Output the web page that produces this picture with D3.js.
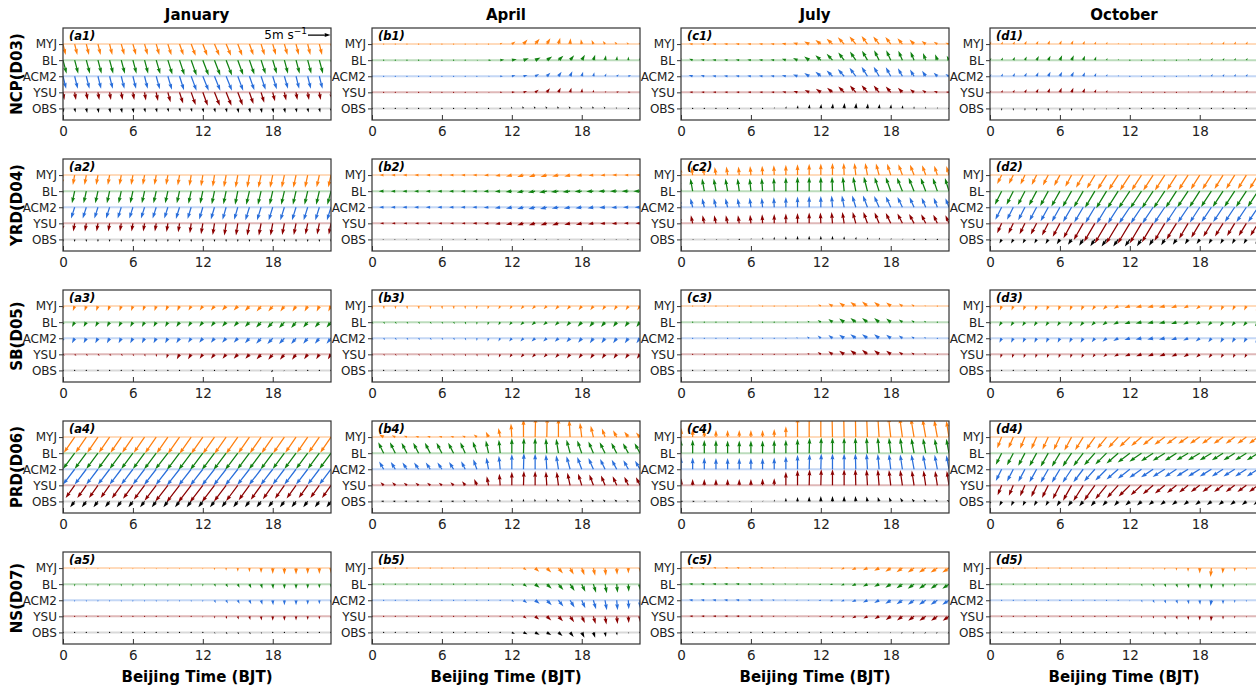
<!DOCTYPE html>
<html><head><meta charset="utf-8">
<script src="https://cdn.jsdelivr.net/npm/d3@7"></script>
<style>body{margin:0;background:#fff}text{font-family:"DejaVu Sans",sans-serif}</style>
</head><body><svg id="c" width="1256" height="689"></svg>
<script>
const months = ["January","April","July","October"];
const regions = ["NCP(D03)","YRD(D04)","SB(D05)","PRD(D06)","NS(D07)"];
const schemes = ["MYJ","BL","ACM2","YSU","OBS"];
const schemeColors = ["#ff7f0e","#108010","#2a6fdb","#8b0000","#000000"];
const hours = [0,1,2,3,4,5,6,7,8,9,10,11,12,13,14,15,16,17,18,19,20,21,22,23];
const xTicks = [0,6,12,18];
const keySpeed = 5;

// ---- wind components (m/s), rows: MYJ, BL, ACM2, YSU, OBS ; columns: hour 0..23 ----
const a1_u = [
[0.6,0.6,0.6,0.6,0.6,0.7,0.7,0.7,0.7,0.8,0.9,1.0,1.0,1.1,1.1,1.0,0.9,0.8,0.7,0.7,0.6,0.6,0.6,0.6],
[0.8,0.8,0.8,0.8,0.8,0.8,0.8,0.8,0.9,1.0,1.1,1.2,1.3,1.3,1.3,1.2,1.1,1.0,0.9,0.8,0.8,0.8,0.8,0.8],
[0.7,0.7,0.7,0.7,0.7,0.7,0.7,0.7,0.8,0.9,1.0,1.2,1.3,1.3,1.3,1.2,1.1,1.0,0.9,0.8,0.7,0.7,0.7,0.7],
[0.3,0.3,0.3,0.3,0.3,0.3,0.3,0.3,0.4,0.6,0.8,1.0,1.1,1.2,1.2,1.1,0.9,0.7,0.5,0.4,0.3,0.3,0.3,0.3],
[0.2,0.2,0.2,0.2,0.2,0.2,0.2,0.2,0.2,0.2,0.2,0.2,0.2,0.2,0.2,0.2,0.2,0.2,0.2,0.2,0.2,0.2,0.2,0.2]];
const a1_v = [
[-2.4,-2.4,-2.4,-2.4,-2.4,-2.4,-2.4,-2.4,-2.4,-2.5,-2.5,-2.6,-2.6,-2.6,-2.6,-2.6,-2.5,-2.5,-2.4,-2.4,-2.4,-2.4,-2.4,-2.4],
[-3.0,-3.0,-3.0,-3.0,-3.0,-3.0,-3.0,-3.0,-3.1,-3.2,-3.3,-3.4,-3.4,-3.4,-3.4,-3.3,-3.2,-3.1,-3.0,-3.0,-3.0,-3.0,-3.0,-3.0],
[-2.8,-2.8,-2.8,-2.8,-2.8,-2.8,-2.8,-2.8,-2.9,-3.0,-3.1,-3.2,-3.2,-3.2,-3.2,-3.2,-3.1,-3.0,-2.9,-2.8,-2.8,-2.8,-2.8,-2.8],
[-1.7,-1.7,-1.7,-1.7,-1.7,-1.7,-1.7,-1.8,-1.9,-2.2,-2.5,-2.8,-3.0,-3.0,-3.0,-2.9,-2.6,-2.3,-2.0,-1.8,-1.7,-1.7,-1.7,-1.7],
[-0.9,-0.9,-1.0,-1.0,-1.0,-1.0,-1.0,-0.9,-0.9,-0.8,-0.8,-0.8,-0.9,-0.9,-0.9,-1.0,-1.0,-1.0,-1.0,-1.0,-0.9,-0.9,-0.9,-0.9]];

const b1_u = [
[0,0,0,0,0,0,0,0,0,0,0.2,0.5,0.8,0.9,1.0,0.8,0.4,0.1,-0.2,-0.4,-0.5,-0.5,-0.4,-0.3],
[0,0,0,0,0,0,0,0,0.1,0.3,0.6,0.9,1.1,1.2,1.2,1.2,1.1,0.9,0.7,0.4,0.2,0.1,0,0],
[0,0,0,0,0,0,0,0,0,0.1,0.3,0.6,0.8,0.9,0.9,0.8,0.7,0.5,0.3,0.2,0.3,0.5,0.6,0.5],
[0,0,0,0,0,0,0,0,0,0.1,0.3,0.5,0.7,0.8,0.8,0.7,0.5,0.3,0.1,0,0.3,0.5,0.5,0.4],
[0,0,0,0,0,0,0,0,0,0,0,0,-0.2,-0.3,-0.3,-0.3,-0.3,-0.3,-0.3,-0.3,-0.3,-0.2,-0.1,0]];
const b1_v = [
[0,0,0,0,0,0,0,0,0,0,0.1,0.3,0.6,1.0,1.2,1.3,1.4,1.3,1.1,0.9,0.7,0.5,0.4,0.3],
[0,0,0,0,0,0,0,0,0,0,0,0.1,0.2,0.4,0.6,0.8,1.0,1.1,1.2,1.2,1.1,0.9,0.8,0.6],
[0,0,0,0,0,0,0,0,0,0,0,0,0.2,0.3,0.5,0.8,1.0,1.1,1.0,0.9,0.6,0.4,0.2,0.1],
[0,0,0,0,0,0,0,0,0,0,0,0,0.1,0.3,0.6,0.9,1.0,1.0,0.9,0.6,0.3,0.2,0.1,0],
[0,0,0,0,0,0,0,0,0,0,0,0,0.4,0.5,0.5,0.5,0.5,0.5,0.5,0.5,0.4,0.3,0.2,0.1]];

const c1_u = [
[-0.8,-0.8,-0.8,-0.8,-0.8,-0.8,-0.8,-0.8,-0.8,-0.9,-1.0,-1.1,-1.2,-1.3,-1.4,-1.4,-1.3,-1.3,-1.2,-1.1,-1.0,-0.9,-0.8,-0.8],
[-1.0,-0.8,-0.8,-0.8,-0.8,-0.8,-0.8,-0.8,-0.8,-0.9,-1.0,-1.1,-1.2,-1.3,-1.3,-1.3,-1.2,-1.1,-1.0,-0.9,-0.8,-0.6,-0.5,-0.5],
[-1.0,-0.9,-0.8,-0.8,-0.8,-0.8,-0.8,-0.8,-0.8,-0.9,-1.0,-1.1,-1.2,-1.3,-1.4,-1.4,-1.3,-1.2,-1.1,-1.0,-0.9,-0.8,-0.8,-0.8],
[-0.7,-0.7,-0.7,-0.7,-0.7,-0.7,-0.7,-0.7,-0.7,-0.8,-0.9,-1.0,-1.1,-1.2,-1.3,-1.3,-1.3,-1.2,-1.1,-1.0,-0.9,-0.8,-0.8,-0.7],
[0,0,0,0,0,0,0,0,0,0.1,0.1,0.1,0.1,0.1,0.1,0.1,0.1,0.1,0.1,0.1,0,0,0,0]];
const c1_v = [
[0.1,0.1,0.1,0.1,0.1,0.1,0.1,0.1,0.1,0.2,0.3,0.6,0.9,1.2,1.5,1.7,1.8,1.7,1.6,1.3,1.0,0.7,0.5,0.3],
[0.5,0.3,0.1,0.1,0.1,0.1,0.1,0.1,0.1,0.3,0.5,0.8,1.1,1.4,1.7,1.9,2.1,2.2,2.2,2.1,1.9,1.6,1.3,1.0],
[0.4,0.3,0.2,0.1,0.1,0.1,0.1,0.1,0.1,0.2,0.4,0.7,1.0,1.3,1.6,1.9,2.1,2.1,2.0,1.8,1.5,1.2,0.8,0.5],
[0.2,0.1,0.1,0.1,0.1,0.1,0.1,0.1,0.1,0.2,0.3,0.5,0.8,1.0,1.3,1.5,1.6,1.5,1.3,1.0,0.7,0.5,0.3,0.1],
[0,0,0,0,0,0,0,0.2,0.3,0.5,0.7,0.9,1.0,1.1,1.2,1.2,1.1,1.0,0.9,0.7,0.5,0.4,0.3,0.2]];

const d1_u = [
[0.3,0.3,0.4,0.4,0.4,0.4,0.4,0.4,0.4,0.3,0.2,0.1,0.1,0,0,0,0,0.1,0.2,0.3,0.3,0.3,0.3,0.3],
[0.3,0.3,0.4,0.4,0.5,0.5,0.5,0.5,0.4,0.3,0.2,0.1,0,0,0,0,0.1,0.2,0.3,0.3,0.3,0.3,0.3,0.3],
[0.3,0.3,0.4,0.4,0.4,0.5,0.5,0.5,0.4,0.3,0.2,0.1,0,0,0,0,0.1,0.2,0.3,0.3,0.3,0.3,0.3,0.3],
[0.3,0.3,0.3,0.4,0.4,0.4,0.4,0.4,0.4,0.3,0.2,0.1,0,0,0,0,0.1,0.2,0.2,0.3,0.3,0.3,0.3,0.3],
[0,0,0,0,0,0,0,0,0,0,0,0,0,0,0,0,0,0,0,0,0,0,0,0]];
const d1_v = [
[0.6,0.6,0.6,0.7,0.7,0.8,0.8,0.8,0.7,0.6,0.5,0.3,0.1,0,0,0,0.1,0.2,0.4,0.5,0.6,0.6,0.6,0.6],
[0.5,0.6,0.7,0.8,0.9,1.0,1.1,1.1,1.0,0.8,0.5,0.3,0.1,0,0,0,0.1,0.3,0.4,0.5,0.5,0.5,0.5,0.5],
[0.5,0.6,0.7,0.8,0.9,1.0,1.0,1.0,0.9,0.7,0.5,0.3,0.1,0,0,0,0.1,0.3,0.4,0.5,0.5,0.5,0.5,0.5],
[0.4,0.5,0.6,0.7,0.8,0.9,1.0,1.0,0.9,0.7,0.5,0.3,0.1,0,0,0,0.1,0.2,0.3,0.4,0.4,0.4,0.4,0.4],
[-0.5,-0.5,-0.5,-0.5,-0.6,-0.6,-0.6,-0.6,-0.5,-0.4,-0.3,-0.1,0,0,0,0,0,0,0,0,0,0,0,0]];

const a2_u = [
[-0.4,-0.4,-0.4,-0.4,-0.4,-0.4,-0.4,-0.4,-0.4,-0.4,-0.4,-0.4,-0.4,-0.4,-0.5,-0.5,-0.5,-0.6,-0.6,-0.6,-0.6,-0.6,-0.6,-0.6],
[-0.7,-0.6,-0.6,-0.6,-0.6,-0.6,-0.6,-0.6,-0.6,-0.6,-0.6,-0.6,-0.6,-0.6,-0.6,-0.6,-0.7,-0.7,-0.7,-0.7,-0.7,-0.7,-0.7,-0.8],
[-0.8,-0.8,-0.8,-0.8,-0.8,-0.8,-0.8,-0.8,-0.8,-0.8,-0.8,-0.8,-0.8,-0.8,-0.8,-0.8,-0.9,-0.9,-0.9,-0.9,-0.9,-0.9,-0.9,-0.9],
[-0.3,-0.3,-0.3,-0.3,-0.3,-0.3,-0.3,-0.3,-0.3,-0.3,-0.3,-0.3,-0.4,-0.4,-0.4,-0.4,-0.5,-0.5,-0.5,-0.5,-0.5,-0.5,-0.5,-0.5],
[0,0,0,0,0,0,0,0,0,0,0,0,0,0,0,0,0,0,0,0,0,0,0,0]];
const a2_v = [
[-2.2,-2.2,-2.2,-2.2,-2.2,-2.2,-2.2,-2.2,-2.2,-2.2,-2.3,-2.4,-2.5,-2.6,-2.7,-2.8,-2.8,-2.8,-2.8,-2.8,-2.8,-2.8,-2.7,-2.7],
[-2.8,-2.7,-2.7,-2.7,-2.7,-2.7,-2.7,-2.7,-2.7,-2.7,-2.7,-2.8,-2.8,-2.9,-2.9,-3.0,-3.0,-3.0,-3.0,-3.0,-3.0,-3.0,-3.0,-3.0],
[-2.5,-2.5,-2.5,-2.5,-2.5,-2.5,-2.5,-2.5,-2.5,-2.5,-2.6,-2.6,-2.7,-2.7,-2.8,-2.8,-2.9,-2.9,-2.9,-2.9,-2.9,-2.9,-2.9,-2.9],
[-1.8,-1.8,-1.8,-1.8,-1.8,-1.8,-1.8,-1.8,-1.8,-1.9,-2.0,-2.2,-2.4,-2.6,-2.7,-2.7,-2.7,-2.7,-2.7,-2.6,-2.6,-2.5,-2.5,-2.5],
[-0.6,-0.6,-0.6,-0.6,-0.6,-0.6,-0.6,-0.6,-0.6,-0.6,-0.6,-0.6,-0.6,-0.6,-0.6,-0.6,-0.6,-0.6,-0.6,-0.6,-0.6,-0.6,-0.6,-0.6]];

const b2_u = [
[-0.9,-0.9,-0.9,-0.9,-0.9,-0.9,-0.9,-0.9,-0.9,-0.9,-1.0,-1.1,-1.3,-1.4,-1.4,-1.4,-1.4,-1.3,-1.2,-1.1,-1.0,-1.0,-0.9,-0.9],
[-1.3,-1.1,-1.0,-1.0,-1.0,-1.0,-1.0,-1.0,-1.0,-1.0,-1.1,-1.2,-1.4,-1.5,-1.6,-1.7,-1.7,-1.7,-1.6,-1.6,-1.5,-1.5,-1.5,-1.5],
[-1.1,-1.0,-1.0,-1.0,-1.0,-1.0,-1.0,-1.0,-1.0,-1.0,-1.1,-1.2,-1.3,-1.4,-1.5,-1.5,-1.5,-1.4,-1.4,-1.3,-1.3,-1.2,-1.2,-1.2],
[-0.8,-0.8,-0.8,-0.8,-0.8,-0.8,-0.8,-0.8,-0.8,-0.9,-1.0,-1.1,-1.3,-1.4,-1.4,-1.4,-1.4,-1.3,-1.3,-1.2,-1.1,-1.1,-1.0,-1.0],
[-0.3,-0.3,-0.3,-0.3,-0.3,-0.3,-0.3,-0.3,-0.2,0,0.1,0.1,0,-0.1,-0.2,-0.3,-0.3,-0.3,-0.3,-0.3,-0.3,-0.3,-0.3,-0.3]];
const b2_v = [
[0,0,0,0,0,0,0,0,0,0,-0.1,-0.2,-0.3,-0.4,-0.4,-0.4,-0.3,-0.3,-0.2,-0.1,-0.1,0,0,0],
[0.1,0,0,0,0,0,0,0,0,0,-0.1,-0.1,-0.2,-0.3,-0.3,-0.3,-0.2,-0.2,-0.1,-0.1,0,0,0,0],
[0,0,0,0,0,0,0,0,0,0,-0.1,-0.2,-0.3,-0.4,-0.4,-0.4,-0.3,-0.3,-0.2,-0.2,-0.1,-0.1,0,0],
[0,0,0,0,0,0,0,0,0,0,-0.1,-0.2,-0.3,-0.4,-0.4,-0.4,-0.4,-0.3,-0.3,-0.2,-0.1,-0.1,0,0],
[0,0,0,0,0,0,0,0,-0.1,-0.2,-0.3,-0.3,-0.3,-0.2,-0.1,0,0,0,0,0,0,0,0,0]];

const c2_u = [
[-0.3,-0.3,-0.3,-0.3,-0.3,-0.2,-0.2,-0.1,-0.1,0,0,0,0,0,-0.1,-0.3,-0.5,-0.7,-0.8,-0.9,-0.9,-0.8,-0.7,-0.6],
[-0.6,-0.5,-0.5,-0.5,-0.5,-0.4,-0.3,-0.2,-0.1,0,0,0,0,-0.1,-0.3,-0.6,-0.8,-1.0,-1.1,-1.2,-1.2,-1.1,-1.0,-0.9],
[-0.5,-0.5,-0.5,-0.5,-0.5,-0.4,-0.3,-0.2,-0.1,0,0,0,0,-0.2,-0.5,-0.8,-1.0,-1.1,-1.1,-1.1,-1.0,-0.9,-0.8,-0.8],
[-0.5,-0.4,-0.4,-0.4,-0.4,-0.3,-0.2,-0.1,0,0,0,0,-0.1,-0.2,-0.4,-0.7,-0.9,-1.0,-1.1,-1.1,-1.1,-1.0,-0.9,-0.8],
[0.3,0.3,0.3,0.3,0.3,0.2,0.1,0.1,0,0,0,0,0,0,0,0.1,0.1,0.2,0.2,0.2,0.2,0.2,0.2,0.2]];
const c2_v = [
[1.8,1.8,1.8,1.8,1.9,1.9,2.0,2.1,2.2,2.3,2.4,2.5,2.6,2.7,2.7,2.7,2.7,2.6,2.5,2.4,2.3,2.2,2.1,2.0],
[2.9,2.8,2.8,2.8,2.8,2.8,2.8,2.9,3.0,3.1,3.2,3.2,3.2,3.2,3.2,3.2,3.2,3.1,3.1,3.0,3.0,2.9,2.9,2.9],
[2.0,2.0,2.0,2.0,2.0,2.0,2.1,2.1,2.2,2.3,2.4,2.5,2.5,2.6,2.6,2.6,2.6,2.5,2.4,2.3,2.2,2.1,2.1,2.0],
[1.8,1.8,1.8,1.8,1.8,1.8,1.9,2.0,2.1,2.2,2.3,2.4,2.4,2.5,2.5,2.5,2.5,2.4,2.3,2.2,2.1,2.0,1.9,1.8],
[-0.1,-0.1,-0.1,-0.1,0,0.1,0.3,0.5,0.6,0.7,0.8,0.8,0.8,0.8,0.7,0.6,0.5,0.4,0.3,0.2,0.1,0,0,0]];

const d2_u = [
[-1.0,-1.0,-1.0,-1.0,-1.1,-1.2,-1.3,-1.4,-1.6,-1.8,-2.0,-2.1,-2.2,-2.2,-2.2,-2.2,-2.1,-2.1,-2.0,-2.0,-1.9,-1.9,-1.9,-1.9],
[-1.5,-1.5,-1.5,-1.6,-1.7,-1.8,-1.9,-2.0,-2.1,-2.2,-2.3,-2.4,-2.5,-2.5,-2.5,-2.5,-2.4,-2.4,-2.3,-2.3,-2.3,-2.3,-2.3,-2.3],
[-1.4,-1.4,-1.4,-1.5,-1.6,-1.7,-1.8,-1.9,-2.0,-2.1,-2.2,-2.3,-2.4,-2.4,-2.4,-2.4,-2.3,-2.3,-2.2,-2.2,-2.2,-2.2,-2.2,-2.2],
[-1.0,-1.0,-1.1,-1.2,-1.3,-1.4,-1.6,-1.8,-2.1,-2.4,-2.6,-2.7,-2.7,-2.6,-2.5,-2.3,-2.2,-2.0,-1.9,-1.8,-1.8,-1.7,-1.7,-1.7],
[-0.5,-0.5,-0.5,-0.5,-0.5,-0.6,-0.7,-0.8,-0.9,-1.0,-1.1,-1.1,-1.1,-1.0,-0.9,-0.8,-0.8,-0.7,-0.7,-0.6,-0.6,-0.6,-0.6,-0.6]];
const d2_v = [
[-2.0,-2.0,-2.0,-2.1,-2.2,-2.3,-2.4,-2.6,-2.8,-3.0,-3.2,-3.3,-3.4,-3.4,-3.4,-3.4,-3.3,-3.3,-3.2,-3.2,-3.1,-3.1,-3.1,-3.1],
[-3.0,-3.0,-3.0,-3.1,-3.2,-3.3,-3.4,-3.5,-3.6,-3.7,-3.8,-3.8,-3.8,-3.8,-3.8,-3.8,-3.7,-3.6,-3.6,-3.5,-3.5,-3.5,-3.5,-3.5],
[-2.8,-2.8,-2.8,-2.9,-3.0,-3.1,-3.2,-3.3,-3.4,-3.5,-3.6,-3.6,-3.6,-3.6,-3.6,-3.6,-3.5,-3.4,-3.4,-3.3,-3.3,-3.3,-3.3,-3.3],
[-2.2,-2.2,-2.3,-2.4,-2.5,-2.7,-3.0,-3.3,-3.7,-4.1,-4.4,-4.5,-4.5,-4.4,-4.2,-3.9,-3.6,-3.4,-3.2,-3.0,-2.9,-2.8,-2.8,-2.8],
[-0.9,-0.9,-0.9,-0.9,-0.9,-1.0,-1.1,-1.2,-1.4,-1.5,-1.6,-1.6,-1.6,-1.5,-1.4,-1.3,-1.2,-1.1,-1.0,-1.0,-1.0,-1.0,-1.0,-1.0]];

const a3_u = [
[-0.4,-0.4,-0.4,-0.4,-0.4,-0.4,-0.4,-0.4,-0.4,-0.5,-0.5,-0.6,-0.7,-0.8,-0.9,-0.9,-1.0,-1.0,-1.0,-0.9,-0.8,-0.7,-0.6,-0.6],
[-0.6,-0.6,-0.6,-0.6,-0.6,-0.6,-0.6,-0.6,-0.6,-0.6,-0.7,-0.7,-0.8,-0.8,-0.9,-0.9,-1.0,-1.1,-1.2,-1.2,-1.1,-1.0,-1.0,-1.0],
[-0.6,-0.6,-0.6,-0.6,-0.6,-0.6,-0.6,-0.6,-0.6,-0.6,-0.7,-0.7,-0.8,-0.8,-0.9,-0.9,-1.0,-1.1,-1.2,-1.2,-1.1,-1.0,-1.0,-1.0],
[0.4,0.4,0.4,0.4,0.4,0.4,0.3,0.2,0.1,-0.3,-0.6,-0.7,-0.7,-0.8,-0.8,-0.9,-0.9,-1.0,-1.0,-1.0,-0.9,-0.8,-0.7,-0.7],
[0,0,0,0,0,0,0,0,0,0,0,0,0,0,0,0,0,-0.2,-0.4,-0.2,0,0,0,0]];
const a3_v = [
[-1.1,-1.1,-1.1,-1.1,-1.1,-1.1,-1.1,-1.1,-1.1,-1.1,-1.1,-1.0,-1.0,-1.0,-1.0,-1.0,-1.1,-1.2,-1.2,-1.2,-1.2,-1.2,-1.2,-1.2],
[-1.1,-1.1,-1.1,-1.1,-1.1,-1.1,-1.1,-1.1,-1.1,-1.1,-1.1,-1.0,-1.0,-1.0,-1.0,-1.0,-1.1,-1.2,-1.3,-1.3,-1.3,-1.2,-1.2,-1.2],
[-1.1,-1.1,-1.1,-1.1,-1.1,-1.1,-1.1,-1.1,-1.1,-1.1,-1.1,-1.0,-1.0,-1.0,-1.0,-1.0,-1.1,-1.2,-1.3,-1.3,-1.3,-1.2,-1.2,-1.2],
[-0.3,-0.3,-0.3,-0.3,-0.3,-0.3,-0.4,-0.5,-0.6,-0.9,-1.1,-1.1,-1.0,-1.0,-1.0,-1.0,-1.0,-1.1,-1.2,-1.2,-1.2,-1.1,-1.1,-1.1],
[0,0,0,0,0,0,0,0,0,0,0,0,0,0,0,0,0,-0.2,-0.4,-0.2,0,0,0,0]];

const b3_u = [
[0.1,0.1,0.1,0.1,0.1,0.1,0.1,0.1,0,-0.1,-0.2,-0.4,-0.5,-0.6,-0.7,-0.7,-0.7,-0.7,-0.7,-0.7,-0.6,-0.6,-0.6,-0.6],
[0.3,0.3,0.3,0.3,0.3,0.3,0.3,0.3,0.2,0,-0.2,-0.4,-0.6,-0.7,-0.8,-0.8,-0.8,-0.8,-0.9,-0.9,-0.9,-0.8,-0.8,-0.8],
[0.3,0.3,0.3,0.3,0.3,0.3,0.3,0.3,0.2,0,-0.2,-0.4,-0.6,-0.7,-0.8,-0.8,-0.8,-0.8,-0.8,-0.8,-0.8,-0.8,-0.8,-0.8],
[0.3,0.3,0.3,0.3,0.3,0.3,0.3,0.3,0.2,0.1,-0.1,-0.3,-0.5,-0.6,-0.7,-0.7,-0.7,-0.7,-0.7,-0.7,-0.7,-0.7,-0.7,-0.7],
[0,0,0,0,0,0,0,0,0,0,0,0,0,0,0,0,0,0,0,0,0,0,0,0]];
const b3_v = [
[-0.7,-0.7,-0.7,-0.7,-0.7,-0.7,-0.7,-0.7,-0.7,-0.7,-0.7,-0.7,-0.7,-0.7,-0.7,-0.7,-0.8,-0.8,-0.9,-0.9,-0.9,-0.9,-0.9,-0.9],
[-0.4,-0.4,-0.4,-0.4,-0.4,-0.4,-0.4,-0.4,-0.5,-0.6,-0.7,-0.7,-0.7,-0.7,-0.7,-0.7,-0.8,-0.9,-1.0,-1.1,-1.1,-1.1,-1.1,-1.1],
[-0.4,-0.4,-0.4,-0.4,-0.4,-0.4,-0.4,-0.4,-0.5,-0.6,-0.7,-0.7,-0.7,-0.7,-0.7,-0.7,-0.8,-0.9,-1.0,-1.1,-1.1,-1.1,-1.1,-1.1],
[-0.3,-0.3,-0.3,-0.3,-0.3,-0.3,-0.3,-0.3,-0.4,-0.5,-0.6,-0.7,-0.7,-0.7,-0.7,-0.7,-0.8,-0.9,-0.9,-1.0,-1.0,-1.0,-1.0,-1.0],
[0,0,0,0,0,0,0,0,0,0,0,0,0,0,0,0,0,0,0,0,0,0,0,0]];

const c3_u = [
[-0.1,-0.1,-0.1,-0.1,-0.1,-0.1,-0.1,-0.1,-0.1,-0.1,-0.1,-0.3,-0.6,-0.9,-1.1,-1.2,-1.2,-1.1,-1.0,-0.8,-0.6,-0.3,-0.2,-0.1],
[-0.1,-0.1,-0.1,-0.1,-0.1,-0.1,-0.1,-0.1,-0.1,0,-0.2,-0.4,-0.7,-0.9,-1.1,-1.2,-1.2,-1.1,-1.0,-0.8,-0.6,-0.4,-0.2,-0.1],
[-0.1,-0.1,-0.1,-0.1,-0.1,-0.1,-0.1,-0.1,0,-0.1,-0.3,-0.5,-0.7,-0.9,-1.1,-1.2,-1.2,-1.1,-1.0,-0.8,-0.6,-0.4,-0.2,-0.1],
[-0.1,-0.1,-0.1,-0.1,-0.1,-0.1,-0.1,-0.1,-0.1,0,-0.2,-0.4,-0.7,-0.9,-1.1,-1.2,-1.2,-1.1,-1.0,-0.8,-0.6,-0.4,-0.2,-0.1],
[0,0,0,0,0,0,0,0,0,0,0,0,0,0,0,0,0,0,0,0,0,0,0,0]];
const c3_v = [
[0,0,0,0,0,0,0,0,0,0,0.1,0.2,0.4,0.6,0.8,0.9,1.0,0.9,0.8,0.6,0.4,0.2,0.1,0],
[0,0,0,0,0,0,0,0,0,0,0.1,0.3,0.5,0.7,0.8,0.9,0.9,0.9,0.8,0.6,0.4,0.3,0.1,0],
[0,0,0,0,0,0,0,0,0,0.1,0.2,0.4,0.6,0.7,0.8,0.9,0.9,0.9,0.8,0.6,0.4,0.3,0.1,0],
[0,0,0,0,0,0,0,0,0,0,0.1,0.3,0.5,0.7,0.8,0.9,1.0,0.9,0.8,0.6,0.4,0.3,0.1,0],
[0,0,0,0,0,0,0,0,0,0,0,0,0.2,0.3,0.1,0,0,0,0,0,0,0,0,0]];

const d3_u = [
[-0.4,-0.4,-0.4,-0.4,-0.4,-0.4,-0.4,-0.4,-0.5,-0.6,-0.8,-1.0,-1.2,-1.3,-1.3,-1.3,-1.2,-1.0,-0.8,-0.6,-0.5,-0.5,-0.5,-0.5],
[-0.6,-0.6,-0.6,-0.6,-0.6,-0.6,-0.6,-0.6,-0.7,-0.8,-0.9,-1.1,-1.2,-1.3,-1.3,-1.3,-1.2,-1.1,-0.9,-0.8,-0.7,-0.7,-0.7,-0.7],
[-0.5,-0.5,-0.5,-0.5,-0.5,-0.5,-0.5,-0.5,-0.6,-0.7,-0.9,-1.1,-1.2,-1.3,-1.3,-1.3,-1.2,-1.1,-0.9,-0.7,-0.6,-0.6,-0.6,-0.6],
[-0.3,-0.3,-0.3,-0.3,-0.3,-0.3,-0.3,-0.3,-0.4,-0.5,-0.7,-0.9,-1.1,-1.2,-1.2,-1.2,-1.1,-1.0,-0.8,-0.6,-0.5,-0.4,-0.4,-0.4],
[0,0,0,0,0,0,0,0,0,0,0,0,0,0,0,0,0,0,0,0,0,0,0,0]];
const d3_v = [
[-1.0,-1.0,-1.0,-1.0,-1.0,-1.0,-1.0,-1.0,-1.0,-0.9,-0.8,-0.6,-0.4,-0.3,-0.3,-0.3,-0.4,-0.5,-0.7,-0.9,-1.0,-1.0,-1.0,-1.0],
[-0.9,-0.9,-0.9,-0.9,-0.9,-0.9,-0.9,-0.9,-0.9,-0.8,-0.7,-0.5,-0.4,-0.3,-0.3,-0.3,-0.4,-0.5,-0.6,-0.8,-0.9,-0.9,-0.9,-0.9],
[-1.0,-1.0,-1.0,-1.0,-1.0,-1.0,-1.0,-1.0,-1.0,-0.9,-0.8,-0.6,-0.4,-0.3,-0.3,-0.3,-0.4,-0.5,-0.7,-0.9,-1.0,-1.0,-1.0,-1.0],
[-0.8,-0.8,-0.8,-0.8,-0.8,-0.8,-0.8,-0.8,-0.8,-0.7,-0.6,-0.5,-0.4,-0.4,-0.4,-0.4,-0.5,-0.6,-0.7,-0.8,-0.8,-0.8,-0.8,-0.8],
[0,0,0,0,0,0,0,0,0,0,0,0,0,0,0,0,0,0,0,0,0,0,0,0]];

const a4_u = [
[-2.4,-2.4,-2.4,-2.4,-2.4,-2.4,-2.4,-2.4,-2.5,-2.5,-2.6,-2.6,-2.6,-2.6,-2.6,-2.6,-2.5,-2.5,-2.5,-2.5,-2.4,-2.4,-2.4,-2.4],
[-2.6,-2.6,-2.6,-2.6,-2.6,-2.6,-2.6,-2.6,-2.7,-2.8,-2.8,-2.8,-2.8,-2.8,-2.8,-2.8,-2.7,-2.7,-2.7,-2.6,-2.6,-2.6,-2.6,-2.6],
[-2.6,-2.6,-2.6,-2.6,-2.6,-2.6,-2.6,-2.6,-2.7,-2.7,-2.8,-2.8,-2.8,-2.8,-2.8,-2.8,-2.7,-2.7,-2.7,-2.6,-2.6,-2.6,-2.6,-2.6],
[-2.0,-2.0,-2.0,-2.0,-2.0,-2.1,-2.2,-2.4,-2.6,-2.8,-2.9,-2.9,-2.9,-2.8,-2.7,-2.6,-2.4,-2.3,-2.2,-2.1,-2.1,-2.0,-2.0,-2.0],
[-1.0,-1.0,-1.0,-1.0,-1.0,-1.0,-1.0,-1.0,-1.0,-1.0,-1.0,-1.0,-1.0,-1.0,-1.0,-1.0,-1.0,-1.0,-1.0,-1.0,-1.0,-1.0,-1.0,-1.0]];
const a4_v = [
[-3.5,-3.5,-3.5,-3.5,-3.5,-3.5,-3.5,-3.5,-3.6,-3.6,-3.7,-3.7,-3.7,-3.7,-3.7,-3.7,-3.6,-3.6,-3.6,-3.6,-3.5,-3.5,-3.5,-3.5],
[-3.5,-3.5,-3.5,-3.5,-3.5,-3.5,-3.5,-3.5,-3.6,-3.6,-3.7,-3.7,-3.7,-3.7,-3.7,-3.7,-3.6,-3.6,-3.6,-3.5,-3.5,-3.5,-3.5,-3.5],
[-3.4,-3.4,-3.4,-3.4,-3.4,-3.4,-3.4,-3.4,-3.5,-3.5,-3.6,-3.6,-3.6,-3.6,-3.6,-3.6,-3.5,-3.5,-3.5,-3.4,-3.4,-3.4,-3.4,-3.4],
[-2.8,-2.8,-2.8,-2.8,-2.8,-2.9,-3.0,-3.2,-3.4,-3.6,-3.8,-3.8,-3.8,-3.7,-3.6,-3.5,-3.3,-3.2,-3.1,-3.0,-2.9,-2.8,-2.8,-2.8],
[-1.3,-1.3,-1.3,-1.3,-1.3,-1.3,-1.3,-1.3,-1.3,-1.3,-1.3,-1.3,-1.3,-1.3,-1.3,-1.3,-1.3,-1.3,-1.3,-1.3,-1.3,-1.3,-1.3,-1.3]];

const b4_u = [
[-1.2,-1.0,-0.8,-0.7,-0.7,-0.7,-0.7,-0.7,-0.7,-0.7,-0.6,-0.4,-0.2,0,0.1,0.1,0,-0.2,-0.4,-0.6,-0.7,-0.8,-0.9,-0.9],
[-1.2,-1.2,-1.2,-1.2,-1.2,-1.2,-1.2,-1.2,-1.1,-0.9,-0.6,-0.3,0,0.1,0,-0.2,-0.5,-0.8,-1.0,-1.1,-1.2,-1.2,-1.2,-1.2],
[-1.1,-1.0,-1.0,-1.0,-1.0,-1.0,-1.0,-1.0,-0.9,-0.8,-0.5,-0.3,0,0.1,0,-0.2,-0.5,-0.8,-1.0,-1.1,-1.1,-1.1,-1.1,-1.1],
[-0.7,-0.7,-0.7,-0.7,-0.7,-0.7,-0.7,-0.7,-0.7,-0.6,-0.4,-0.2,0,0.1,0,-0.2,-0.4,-0.6,-0.8,-0.9,-0.9,-0.9,-0.9,-0.9],
[-0.6,-0.6,-0.6,-0.6,-0.6,-0.6,-0.6,-0.6,-0.5,-0.4,-0.3,-0.2,0,0,-0.1,-0.2,-0.3,-0.4,-0.4,-0.5,-0.5,-0.5,-0.5,-0.5]];
const b4_v = [
[0.8,0.6,0.4,0.3,0.2,0.2,0.2,0.2,0.3,0.6,1.2,2.0,3.0,4.0,4.5,4.5,4.3,3.8,3.2,2.5,1.9,1.5,1.2,1.0],
[2.4,2.4,2.4,2.3,2.3,2.3,2.3,2.3,2.4,2.6,2.8,3.0,3.3,3.4,3.4,3.3,3.2,3.0,2.8,2.6,2.4,2.3,2.2,2.2],
[1.8,1.7,1.6,1.5,1.5,1.5,1.5,1.6,1.8,2.2,2.6,3.0,3.4,3.6,3.5,3.3,3.1,2.9,2.7,2.5,2.3,2.1,2.0,1.9],
[0.8,0.7,0.7,0.6,0.6,0.6,0.6,0.7,0.9,1.4,2.0,2.6,3.0,3.2,3.2,3.1,3.0,2.8,2.6,2.4,2.2,2.0,1.9,1.8],
[0.1,0.1,0.1,0.1,0.1,0.1,0.1,0.1,0.2,0.3,0.4,0.5,0.6,0.6,0.6,0.6,0.6,0.5,0.5,0.4,0.4,0.4,0.3,0.3]];

const c4_u = [
[0.1,0,0,0,0,0,0,0,0,0,0,0,0,-0.1,-0.1,-0.1,-0.2,-0.3,-0.5,-0.6,-0.7,-0.7,-0.7,-0.6],
[0,0,0,0,0,0,0,0,0,0,0,0.1,0.1,0,0,-0.1,-0.2,-0.3,-0.4,-0.5,-0.6,-0.6,-0.6,-0.6],
[0,0,0,0,0,0,0,0,0,0,0,0.1,0.1,0,0,-0.1,-0.2,-0.3,-0.4,-0.5,-0.6,-0.6,-0.6,-0.6],
[0.1,0,0,0,0,0,0,0,0,0,0,0.1,0.1,0,0,-0.1,-0.2,-0.3,-0.4,-0.5,-0.5,-0.5,-0.5,-0.5],
[0.5,0.5,0.4,0.4,0.4,0.3,0.3,0.2,0.1,0,0,0,0,0,0,-0.1,-0.2,-0.3,-0.4,-0.5,-0.5,-0.5,-0.5,-0.5]];
const c4_v = [
[2.0,1.8,1.6,1.6,1.6,1.6,1.6,1.6,1.8,2.4,4.5,4.8,5.0,5.0,5.0,5.0,5.0,4.8,4.6,4.4,4.2,4.0,3.8,3.6],
[3.0,3.0,2.9,2.9,2.8,2.8,2.8,2.8,2.9,3.0,3.2,3.4,3.5,3.5,3.5,3.5,3.5,3.5,3.4,3.4,3.3,3.3,3.2,3.2],
[2.7,2.6,2.6,2.5,2.5,2.5,2.5,2.5,2.6,2.9,3.2,3.4,3.5,3.5,3.5,3.5,3.5,3.4,3.4,3.3,3.3,3.2,3.2,3.1],
[1.5,1.4,1.4,1.4,1.4,1.4,1.4,1.5,1.6,3.0,3.4,3.5,3.6,3.6,3.6,3.6,3.5,3.5,3.4,3.4,3.3,3.3,3.2,3.2],
[0.1,0.1,0.1,0.1,0.1,0.1,0.1,0.2,0.4,0.8,1.0,1.1,1.2,1.2,1.2,1.2,1.1,1.0,0.9,0.8,0.6,0.5,0.4,0.3]];

const d4_u = [
[-1.0,-1.0,-1.1,-1.1,-1.2,-1.3,-1.4,-1.6,-1.8,-2.0,-2.1,-2.2,-2.3,-2.3,-2.3,-2.3,-2.2,-2.2,-2.2,-2.1,-2.1,-2.0,-2.0,-2.0],
[-1.3,-1.3,-1.4,-1.5,-1.6,-1.7,-1.8,-2.0,-2.2,-2.4,-2.5,-2.6,-2.7,-2.7,-2.7,-2.7,-2.6,-2.6,-2.6,-2.6,-2.5,-2.5,-2.5,-2.5],
[-1.3,-1.3,-1.4,-1.5,-1.6,-1.7,-1.8,-2.0,-2.2,-2.4,-2.5,-2.6,-2.7,-2.7,-2.7,-2.7,-2.6,-2.6,-2.6,-2.6,-2.5,-2.5,-2.5,-2.5],
[-0.9,-0.9,-1.0,-1.1,-1.2,-1.4,-1.6,-1.9,-2.2,-2.4,-2.5,-2.5,-2.5,-2.4,-2.3,-2.2,-2.1,-2.0,-2.0,-2.0,-2.0,-2.0,-2.0,-2.0],
[-0.5,-0.5,-0.5,-0.5,-0.6,-0.6,-0.7,-0.8,-0.9,-0.9,-0.9,-0.9,-1.0,-1.0,-1.0,-1.0,-1.0,-1.0,-1.0,-1.0,-1.0,-1.0,-1.0,-1.0]];
const d4_v = [
[-2.5,-2.5,-2.5,-2.6,-2.7,-2.8,-2.9,-3.0,-2.9,-2.8,-2.6,-2.4,-2.2,-2.0,-1.8,-1.7,-1.6,-1.5,-1.5,-1.5,-1.5,-1.5,-1.5,-1.5],
[-2.6,-2.6,-2.7,-2.8,-2.9,-3.0,-3.0,-3.0,-2.9,-2.7,-2.5,-2.3,-2.1,-1.9,-1.8,-1.7,-1.7,-1.6,-1.6,-1.6,-1.6,-1.6,-1.6,-1.6],
[-2.6,-2.6,-2.7,-2.8,-2.9,-3.0,-3.0,-3.0,-2.9,-2.7,-2.5,-2.3,-2.1,-1.9,-1.8,-1.7,-1.7,-1.6,-1.6,-1.6,-1.6,-1.6,-1.6,-1.6],
[-2.2,-2.2,-2.3,-2.4,-2.6,-2.8,-3.1,-3.4,-3.5,-3.4,-3.1,-2.8,-2.5,-2.2,-2.0,-1.8,-1.7,-1.6,-1.5,-1.5,-1.5,-1.5,-1.5,-1.5],
[-1.0,-1.0,-1.0,-1.0,-1.0,-1.0,-1.1,-1.1,-1.1,-1.1,-1.0,-1.0,-0.9,-0.9,-0.8,-0.8,-0.8,-0.8,-0.8,-0.8,-0.8,-0.8,-0.8,-0.8]];

const a5_u = [
[0,0,0,0,0,0,0,0,0,0,0,0,0,0,0,0,0,0,0,0,0,0,0,0],
[0,0,0,0,0,0,0,0,0,0,0,0,0,0.3,0.4,0.4,0.4,0.3,0.1,0,0,0,0,0],
[0,0,0,0,0,0,0,0,0,0,0,0,0,0.3,0.4,0.4,0.4,0.3,0.1,0,0,0,0,0],
[0,0,0,0,0,0,0,0,0,0,0,0,0,0.1,0.2,0.2,0.2,0.1,0,0,0,0,0,0],
[0,0,0,0,0,0,0,0,0,0,0,0,0,0.2,0.3,0.3,0.3,0.2,0,0,0,0,0,0]];
const a5_v = [
[-0.3,-0.3,-0.3,-0.3,-0.3,-0.3,-0.3,-0.3,-0.3,-0.3,-0.3,-0.3,-0.3,-0.5,-0.6,-0.8,-0.9,-1.1,-1.3,-1.4,-1.4,-1.3,-1.3,-1.2],
[-0.5,-0.5,-0.5,-0.5,-0.5,-0.5,-0.5,-0.5,-0.5,-0.5,-0.5,-0.5,-0.5,-0.6,-0.7,-0.8,-0.9,-1.0,-1.1,-1.1,-1.1,-1.0,-0.9,-0.8],
[-0.4,-0.4,-0.4,-0.4,-0.4,-0.4,-0.4,-0.4,-0.4,-0.4,-0.4,-0.4,-0.4,-0.6,-0.7,-0.8,-0.9,-1.0,-1.1,-1.1,-1.1,-1.0,-0.9,-0.8],
[-0.2,-0.2,-0.2,-0.2,-0.2,-0.2,-0.2,-0.2,-0.2,-0.2,-0.2,-0.2,-0.3,-0.5,-0.6,-0.7,-0.8,-0.9,-1.0,-1.0,-0.9,-0.8,-0.7,-0.6],
[-0.1,-0.1,-0.1,-0.1,-0.1,-0.1,-0.1,-0.1,-0.1,-0.1,-0.1,-0.1,-0.2,-0.3,-0.4,-0.4,-0.4,-0.3,-0.2,-0.1,-0.1,-0.1,-0.1,-0.1]];

const b5_u = [
[0,0,0,0,0,0,0,0,0,0,0,0.1,0.3,0.7,0.9,1.0,1.0,0.8,0.6,0.4,0.2,0.1,0,0],
[0,0,0,0,0,0,0,0,0,0,0,0.1,0.5,0.8,1.0,1.1,1.1,1.0,0.8,0.6,0.4,0.2,0.1,0],
[0,0,0,0,0,0,0,0,0,0,0,0.1,0.5,0.8,1.0,1.1,1.1,1.0,0.8,0.6,0.4,0.2,0.1,0],
[0,0,0,0,0,0,0,0,0,0,0,0.1,0.4,0.7,0.9,1.0,1.0,0.9,0.7,0.5,0.3,0.2,0.1,0],
[0,0,0,0,0,0,0,0,0,0,0,0.1,0.7,0.9,1.0,1.0,0.9,0.8,0.6,0.4,0.2,0.1,0,0]];
const b5_v = [
[-0.1,-0.1,-0.1,-0.1,-0.1,-0.1,-0.1,-0.1,-0.1,-0.1,-0.1,-0.1,-0.2,-0.5,-0.8,-1.0,-1.2,-1.4,-1.6,-1.7,-1.7,-1.5,-1.2,-0.9],
[-0.2,-0.2,-0.2,-0.2,-0.2,-0.2,-0.2,-0.2,-0.2,-0.2,-0.2,-0.2,-0.4,-0.6,-0.8,-1.0,-1.3,-1.5,-1.7,-1.9,-2.0,-1.9,-1.7,-1.4],
[-0.2,-0.2,-0.2,-0.2,-0.2,-0.2,-0.2,-0.2,-0.2,-0.2,-0.2,-0.2,-0.4,-0.6,-0.8,-1.1,-1.4,-1.6,-1.8,-2.0,-2.2,-2.2,-2.0,-1.8],
[-0.1,-0.1,-0.1,-0.1,-0.1,-0.1,-0.1,-0.1,-0.1,-0.1,-0.1,-0.1,-0.3,-0.5,-0.7,-0.9,-1.1,-1.3,-1.5,-1.7,-1.8,-1.7,-1.5,-1.3],
[0,0,0,0,0,0,0,0,0,0,0,0,-0.3,-0.4,-0.5,-0.6,-0.8,-1.0,-1.2,-1.2,-1.0,-0.7,-0.3,-0.1]];

const c5_u = [
[-0.6,-0.6,-0.6,-0.6,-0.6,-0.6,-0.5,-0.5,-0.4,-0.3,-0.3,-0.3,-0.4,-0.5,-0.7,-0.9,-1.0,-1.1,-1.2,-1.3,-1.4,-1.5,-1.5,-1.5],
[-0.8,-0.8,-0.8,-0.8,-0.8,-0.8,-0.7,-0.6,-0.5,-0.4,-0.4,-0.4,-0.5,-0.6,-0.7,-0.9,-1.0,-1.1,-1.2,-1.3,-1.4,-1.5,-1.5,-1.5],
[-0.8,-0.8,-0.8,-0.8,-0.8,-0.8,-0.7,-0.6,-0.5,-0.4,-0.4,-0.4,-0.5,-0.6,-0.7,-0.9,-1.0,-1.1,-1.2,-1.3,-1.4,-1.5,-1.5,-1.5],
[-0.7,-0.7,-0.7,-0.7,-0.7,-0.7,-0.6,-0.5,-0.4,-0.3,-0.3,-0.3,-0.4,-0.5,-0.6,-0.8,-0.9,-1.0,-1.1,-1.2,-1.3,-1.4,-1.4,-1.4],
[0,0,0,0,0,0,0,0,0,0,0,0,0,0,0,0,-0.1,-0.2,-0.2,-0.3,-0.3,-0.3,-0.3,-0.3]];
const c5_v = [
[0.2,0.2,0.2,0.2,0.2,0.2,0.2,0.2,0.2,0.2,0.1,0,-0.1,-0.2,-0.3,-0.4,-0.5,-0.6,-0.8,-0.9,-1.0,-1.0,-1.0,-1.0],
[0.1,0.1,0.1,0.1,0.1,0.1,0.1,0.1,0.1,0.1,0,0,-0.1,-0.2,-0.3,-0.4,-0.5,-0.6,-0.8,-0.9,-1.0,-1.0,-1.0,-1.0],
[0.1,0.1,0.1,0.1,0.1,0.1,0.1,0.1,0.1,0.1,0,0,-0.1,-0.2,-0.3,-0.4,-0.5,-0.6,-0.8,-0.9,-1.0,-1.0,-1.0,-1.0],
[0.1,0.1,0.1,0.1,0.1,0.1,0.1,0.1,0.1,0.1,0,0,-0.1,-0.2,-0.3,-0.4,-0.5,-0.6,-0.8,-0.9,-1.0,-1.0,-1.0,-1.0],
[0,0,0,0,0,0,0,0,0,0,0,0,0,0,0,0,-0.1,-0.2,-0.2,-0.3,-0.3,-0.3,-0.3,-0.3]];

const d5_u = [
[0,0,0,0,0,0,0,0,0,0,0,0,0,0,0,0,0,0,0,-0.2,-0.1,0,0,0],
[0,0,0,0,0,0,0,0,0,0,0,0,0,0.2,0.3,0.3,0.3,0.2,0.1,0,0,0,0,0],
[0,0,0,0,0,0,0,0,0,0,0,0,0,0.2,0.3,0.3,0.3,0.2,0.1,-0.2,0,0,0,0],
[0,0,0,0,0,0,0,0,0,0,0,0,0,0.1,0.2,0.2,0.2,0.1,0,-0.1,0,0,0,0],
[0,0,0,0,0,0,0,0,0,0,0,0,0,0.1,0.2,0.2,0.2,0.1,0,0,0,0,0,0]];
const d5_v = [
[-0.2,-0.2,-0.2,-0.2,-0.2,-0.2,-0.2,-0.2,-0.2,-0.2,-0.2,-0.2,-0.2,-0.3,-0.4,-0.5,-0.6,-0.8,-1.2,-2.0,-1.2,-0.8,-0.5,-0.3],
[-0.2,-0.2,-0.2,-0.2,-0.2,-0.2,-0.2,-0.2,-0.2,-0.2,-0.2,-0.2,-0.3,-0.5,-0.6,-0.7,-0.8,-0.9,-1.0,-1.0,-0.8,-0.6,-0.4,-0.3],
[-0.2,-0.2,-0.2,-0.2,-0.2,-0.2,-0.2,-0.2,-0.2,-0.2,-0.2,-0.2,-0.3,-0.5,-0.6,-0.7,-0.8,-0.9,-1.0,-1.3,-0.9,-0.6,-0.4,-0.3],
[-0.1,-0.1,-0.1,-0.1,-0.1,-0.1,-0.1,-0.1,-0.1,-0.1,-0.1,-0.1,-0.2,-0.4,-0.5,-0.6,-0.7,-0.8,-0.9,-1.1,-0.7,-0.5,-0.3,-0.2],
[-0.1,-0.1,-0.1,-0.1,-0.1,-0.1,-0.1,-0.1,-0.1,-0.1,-0.1,-0.1,-0.2,-0.3,-0.4,-0.5,-0.5,-0.4,-0.3,-0.2,-0.1,-0.1,-0.1,-0.1]];

const panelU = [[a1_u,b1_u,c1_u,d1_u],[a2_u,b2_u,c2_u,d2_u],[a3_u,b3_u,c3_u,d3_u],[a4_u,b4_u,c4_u,d4_u],[a5_u,b5_u,c5_u,d5_u]];
const panelV = [[a1_v,b1_v,c1_v,d1_v],[a2_v,b2_v,c2_v,d2_v],[a3_v,b3_v,c3_v,d3_v],[a4_v,b4_v,c4_v,d4_v],[a5_v,b5_v,c5_v,d5_v]];

// ---- layout ----
const svg = d3.select("#c");
const colX = [63, 372, 681, 990];
const rowY = [28, 159, 290, 421, 552];
const pw = 268, ph = 92;
const x = d3.scaleLinear().domain([0, 23]).range([0, pw]);
const y = d3.scaleLinear().domain([-0.72, 5]).range([ph, 0]);
const ypos = d3.scalePoint().domain(["OBS","YSU","ACM2","BL","MYJ"]).range([y(0), y(4)]);
const pxPerMs = 4.5;
const sw = 1.25, hw = 3.9, hl = 6.0, hal = 5.4;

function arrowPts(L){
  let s = 1, len = L;
  if (L < hl) { s = L/hl; len = hl; }
  const p = [[0,-sw/2],[len-hal,-sw/2],[len-hl,-hw/2],[len,0],[len-hl,hw/2],[len-hal,sw/2],[0,sw/2]];
  return p.map(q => [q[0]*s, q[1]*s]);
}
function drawArrow(g, x0, y0, u, v, color){
  const dx = u*pxPerMs, dy = -v*pxPerMs;
  const L = Math.hypot(dx, dy);
  if (L < sw) {
    g.append("circle").attr("cx", x0).attr("cy", y0).attr("r", sw/2).attr("fill", color);
    return;
  }
  const ang = Math.atan2(dy, dx)*180/Math.PI;
  g.append("polygon").attr("points", arrowPts(L).map(p=>p.join(",")).join(" "))
    .attr("fill", color)
    .attr("transform", `translate(${x0},${y0}) rotate(${ang})`);
}

months.forEach((m,c)=>{
  svg.append("text").attr("x", colX[c]+pw/2).attr("y", 20).attr("text-anchor","middle")
    .attr("font-size", 15).attr("font-weight","bold").text(m);
});
regions.forEach((r,i)=>{
  svg.append("text").attr("transform", `translate(22,${rowY[i]+ph/2}) rotate(-90)`)
    .attr("text-anchor","middle").attr("font-size", 15).attr("font-weight","bold").text(r);
});

const letters = ["a","b","c","d"];
for (let r=0;r<5;r++){
  for (let c=0;c<4;c++){
    const g = svg.append("g").attr("transform", `translate(${colX[c]},${rowY[r]})`);
    const cid = `clip${r}${c}`;
    g.append("clipPath").attr("id", cid).append("rect").attr("width", pw).attr("height", ph);
    const plot = g.append("g").attr("clip-path", `url(#${cid})`);
    schemes.forEach((s,si)=>{
      plot.append("line").attr("x1",0).attr("x2",pw).attr("y1",ypos(s)).attr("y2",ypos(s))
        .attr("stroke", si===4 ? "#777" : schemeColors[si]).attr("stroke-width",2).attr("stroke-opacity",0.28);
    });
    const U = panelU[r][c], V = panelV[r][c];
    schemes.forEach((s,si)=>{
      hours.forEach((h,hi)=>{
        drawArrow(plot, x(h), ypos(s), U[si][hi], V[si][hi], schemeColors[si]);
      });
    });
    const yAx = g.append("g").call(d3.axisLeft(ypos).tickSize(4).tickPadding(2));
    yAx.select(".domain").remove();
    yAx.selectAll("text").attr("font-size", 12).attr("font-family","DejaVu Sans").attr("fill","#222");
    yAx.selectAll("line").attr("stroke","#333");
    const xAx = g.append("g").attr("transform", `translate(0,${ph})`)
      .call(d3.axisBottom(x).tickValues(xTicks).tickSizeInner(-5).tickSizeOuter(0).tickPadding(6));
    xAx.select(".domain").remove();
    xAx.selectAll("text").attr("font-size", 13.5).attr("font-family","DejaVu Sans").attr("fill","#222");
    xAx.selectAll("line").attr("stroke","#333");
    g.append("rect").attr("width", pw).attr("height", ph).attr("fill","none").attr("stroke","#333").attr("stroke-width",1.2);
    g.append("text").attr("x", 6).attr("y", 12).attr("font-size", 11.5).attr("font-weight","bold")
      .attr("font-style","italic").text(`(${letters[c]}${r+1})`);
    if (r===4){
      g.append("text").attr("x", pw/2).attr("y", ph+38).attr("text-anchor","middle")
        .attr("font-size", 15).attr("font-weight","bold").text("Beijing Time (BJT)");
    }
    if (r===0 && c===0){
      const kx = pw - 23, ky = 7;
      drawArrow(g, kx, ky, keySpeed, 0, "#000");
      g.append("text").attr("x", kx-1).attr("y", ky+4).attr("text-anchor","end").attr("font-size",12)
        .html('5m s<tspan dy="-5" font-size="9">−1</tspan>');
    }
  }
}
</script></body></html>
